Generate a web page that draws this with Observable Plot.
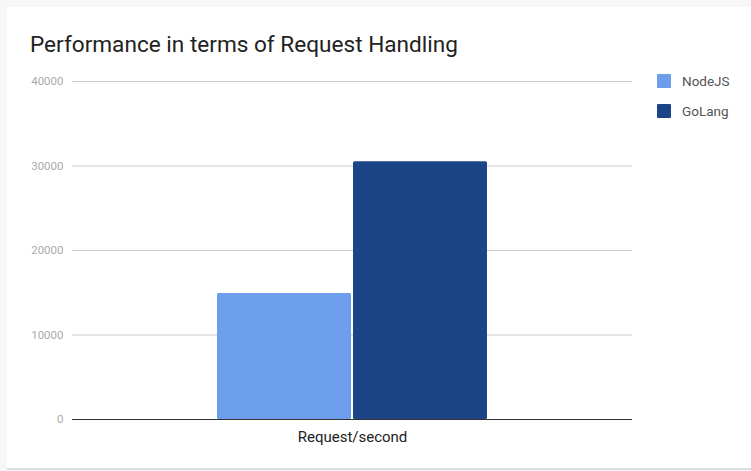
<!DOCTYPE html>
<html><head><meta charset="utf-8">
<script src="https://cdn.jsdelivr.net/npm/d3@7"></script>
<script src="https://cdn.jsdelivr.net/npm/@observablehq/plot@0.6"></script>
<style>
html,body{margin:0;padding:0;background:#f7f7f7;width:751px;height:471px;overflow:hidden;font-family:Roboto,sans-serif;}
#card{position:absolute;left:7px;top:7px;width:744px;height:461px;background:#fff;border-bottom:2px solid #dedede;}
#title{position:absolute;left:30px;top:32px;font-size:22.6px;line-height:26px;color:#222;white-space:nowrap;}
#chart{position:absolute;left:0;top:60px;}
.leg{position:absolute;left:657px;height:14px;}
.leg .sw{position:absolute;left:0;top:0;width:14px;height:14px;border-radius:1px;}
.leg .lb{position:absolute;left:25px;top:-2px;font-size:13.5px;line-height:18px;color:#555;white-space:nowrap;}
</style>
</head><body>
<div id="card"></div>
<div id="title">Performance in terms of Request Handling</div>
<div id="chart"></div>
<div id="legend"></div>
<script>
const categories = ["Request/second"];
const series = ["NodeJS", "GoLang"];
const values = [14900, 30500];
const colors = ["#6d9eeb", "#1c4587"];
const yTicks = [0, 10000, 20000, 30000, 40000];

const data = series.map((s, i) => ({category: categories[0], series: s, value: values[i]}));

const chart = Plot.plot({
  width: 751, height: 400,
  marginLeft: 72, marginRight: 119, marginTop: 21, marginBottom: 41,
  style: {fontFamily: "Roboto, sans-serif", background: "transparent", overflow: "visible"},
  x: {domain: series, axis: null, paddingInner: 0.012, paddingOuter: 1.055},
  y: {domain: [0, 40000], axis: null},
  color: {domain: series, range: colors},
  marks: [
    Plot.ruleY(yTicks.filter(t => t > 0), {stroke: "#cccccc", strokeWidth: 1}),
    Plot.barY(data, {x: "series", y: "value", fill: "series", rx: 1.5}),
    Plot.ruleY([0], {stroke: "#333333", strokeWidth: 1}),
    Plot.axisY({ticks: yTicks, tickSize: 0, tickPadding: 9, tickFormat: d => String(d), fontSize: 11.5, fill: "#aaaaaa", label: null}),
    Plot.text(categories, {text: d => d, frameAnchor: "bottom", dy: 18, lineAnchor: "middle", fontSize: 15, fill: "#222222"})
  ]
});
document.getElementById("chart").appendChild(chart);

const legend = document.getElementById("legend");
series.forEach((s, i) => {
  const item = document.createElement("div");
  item.className = "leg";
  item.style.top = (74 + i * 30) + "px";
  const sw = document.createElement("div");
  sw.className = "sw";
  sw.style.background = colors[i];
  const lb = document.createElement("div");
  lb.className = "lb";
  lb.textContent = s;
  item.appendChild(sw);
  item.appendChild(lb);
  legend.appendChild(item);
});
</script>
</body></html>
